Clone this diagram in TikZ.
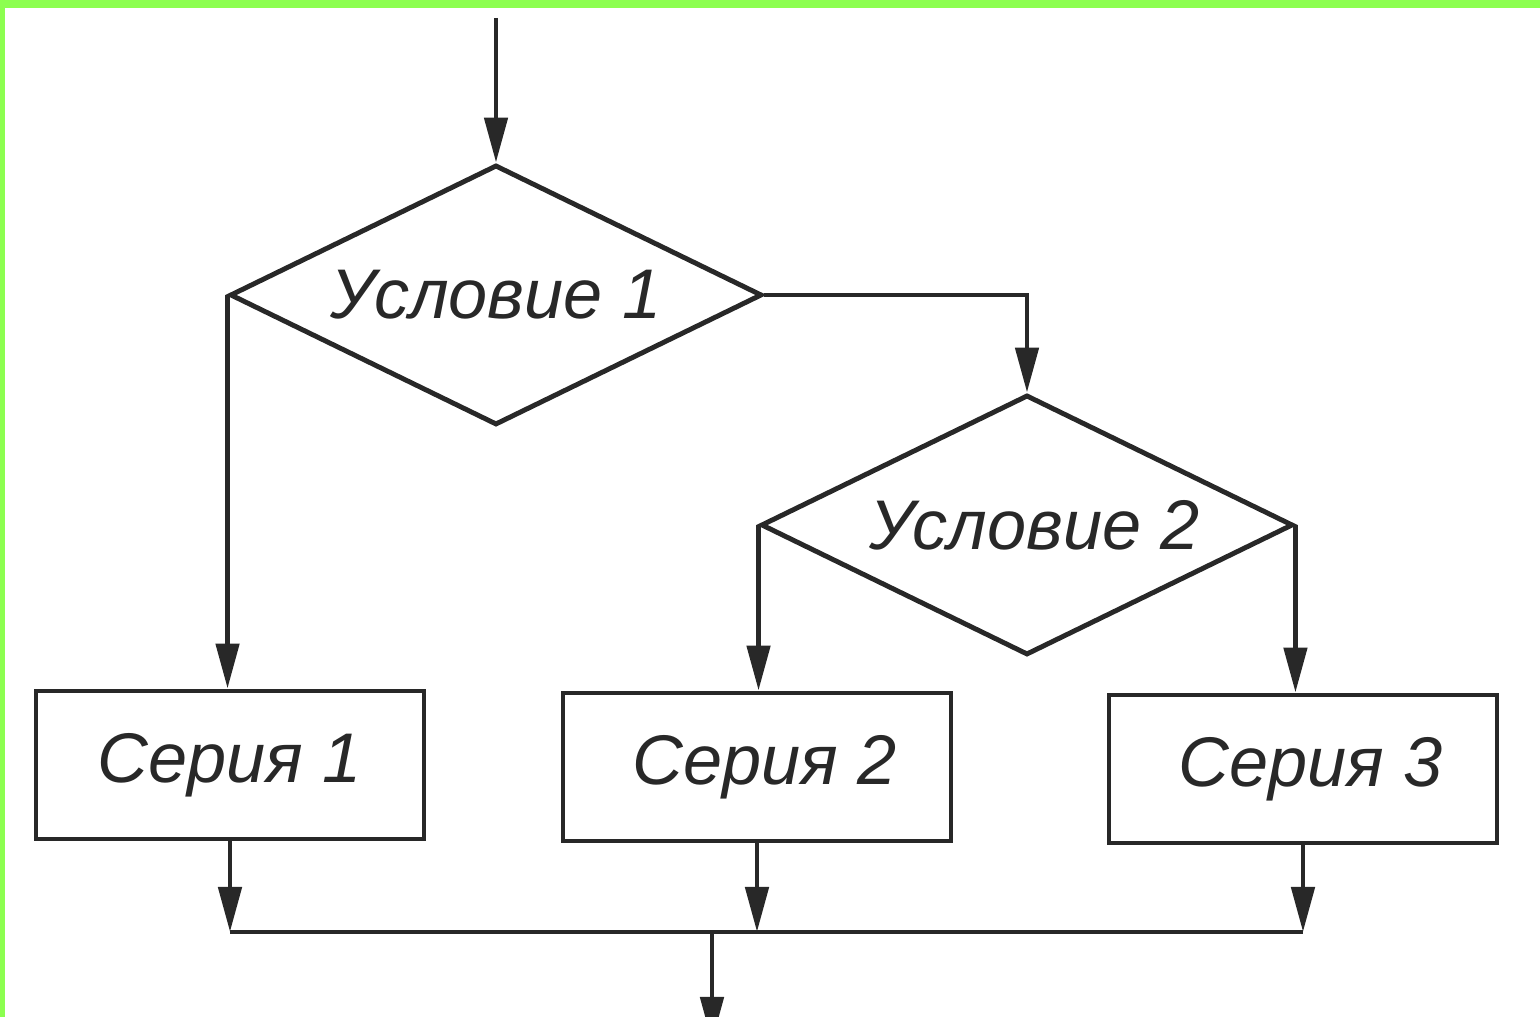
\documentclass[tikz,border=0pt]{standalone}
\usepackage{fontspec}
\setmainfont{Liberation Sans}
\usetikzlibrary{shapes.geometric,arrows.meta}
\definecolor{framegreen}{RGB}{140,255,80}
\definecolor{ink}{RGB}{40,40,40}
\tikzset{
    cond/.style={diamond,shape aspect=2,draw=ink,line width=1.4pt,minimum width=5.32cm,minimum height=2.6cm,
        inner sep=0pt,text=ink,font=\fontsize{20}{24}\selectfont\itshape},
    series/.style={rectangle,draw=ink,line width=1.4pt,minimum width=3.88cm,minimum height=1.48cm,
        inner sep=0pt,text=ink,font=\fontsize{20}{24}\selectfont\itshape},
    flow/.style={draw=ink,line width=1.4pt,-{Triangle[length=4.5mm,width=2.3mm]}}
}
\begin{document}
\begin{tikzpicture}
        \path[use as bounding box,clip] (0,0) rectangle (15.4,10.17);
        \fill[framegreen] (0,10.09) rectangle (15.4,10.17);
        \fill[framegreen] (0,0) rectangle (0.05,10.17);
        % conditions
        \node at (4.96,7.22)[cond] (c1) {Условие 1};
        \node at (10.27,4.92)[cond] (c2) {\hspace{0.15cm}Условие 2};
        % series
        \node at (2.30,2.52)[series] (s1) {Серия 1};
        \node at (7.57,2.50)[series] (s2) {\hspace{0.15cm}Серия 2};
        \node at (13.03,2.48)[series] (s3) {\hspace{0.15cm}Серия 3};
        \coordinate (in) at (4.96,9.99);
        \coordinate (bus) at (0,0.85);
        \coordinate (out) at (7.12,-0.25);
        \draw[flow] (in) -- (c1.north);
        \draw[flow] (c1.west) -- (c1.west |- s1.north);
        \draw[flow] (c1.east) -| (c2.north);
        \draw[flow] (c2.west) -- (c2.west |- s2.north);
        \draw[flow] (c2.east) -- (c2.east |- s3.north);
        \foreach \s in {s1,s2,s3}
        {
            \draw[flow] (\s.south) -- (\s.south |- bus);
        }
        \draw[draw=ink,line width=1.4pt] (s1.south |- bus) -- (s3.south |- bus);
        \draw[flow] (out |- bus) -- (out);
    \end{tikzpicture}
\end{document}
